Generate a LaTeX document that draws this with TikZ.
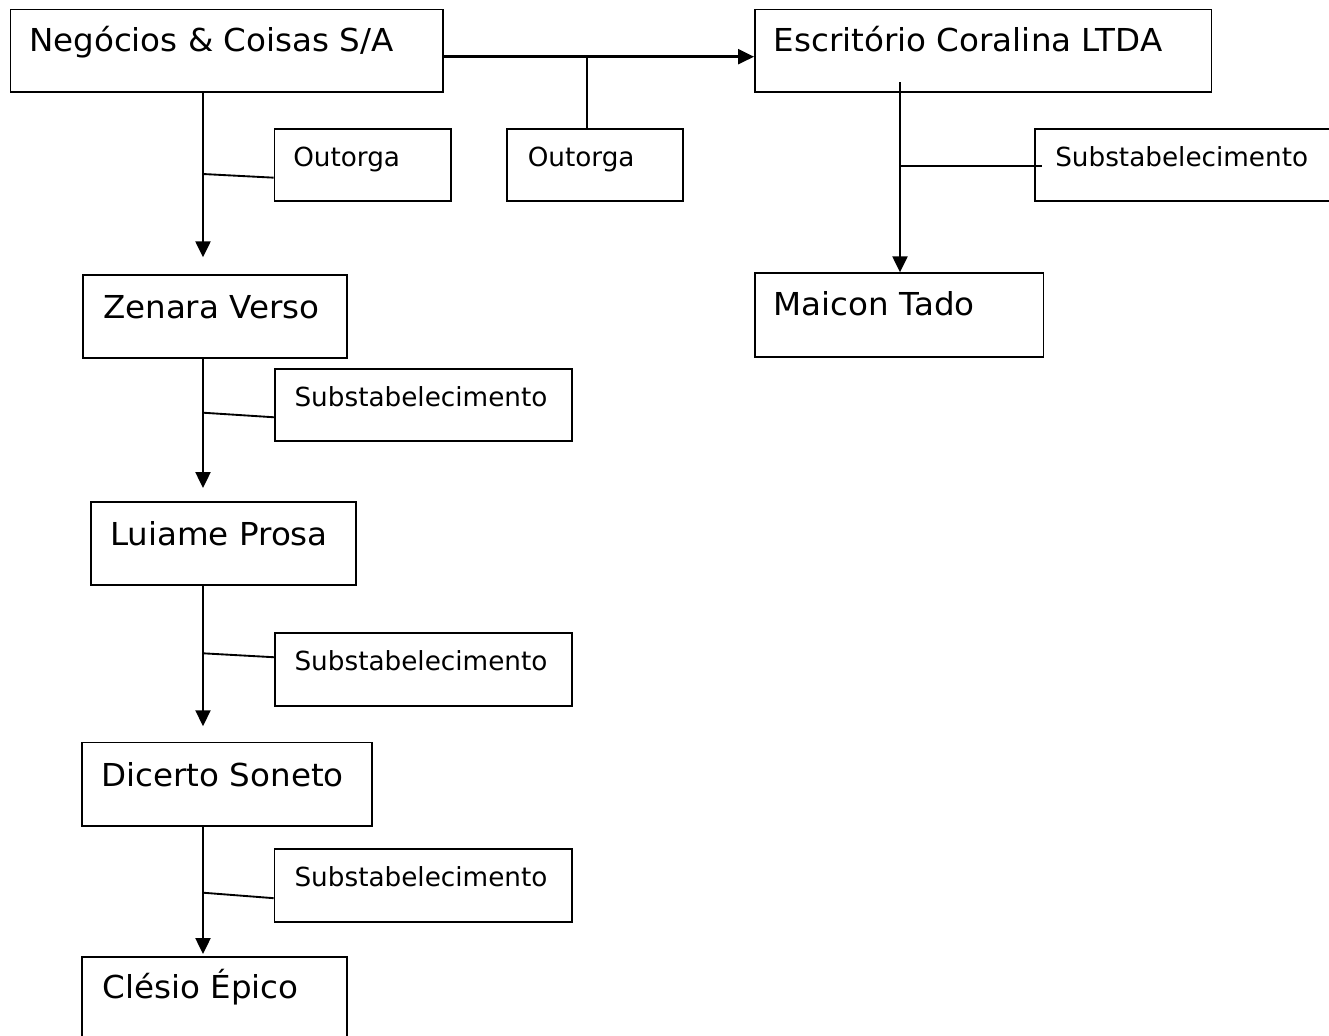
\documentclass[tikz,border=0pt]{standalone}
\usepackage{fontspec}
\setmainfont{DejaVu Sans}
\newfontfamily\bigfam{DejaVu Sans}[FakeStretch=1.03]
\usetikzlibrary{arrows.meta,fit,calc}
\tikzset{
  boxst/.style={draw=black, line width=1.3pt, inner sep=0pt, rectangle},
  bigtxt/.style={anchor=base west, inner sep=0pt, font=\bigfam\fontsize{23.7pt}{28pt}\selectfont},
  smalltxt/.style={anchor=base west, inner sep=0pt, font=\fontsize{19.7pt}{24pt}\selectfont},
  arr/.style={line width=2.2pt, -{Triangle[length=12pt,width=11pt]}},
  tick/.style={line width=1.4pt}
}
\begin{document}
\begin{tikzpicture}[x=0.75pt,y=-0.75pt]
\clip (0,0) rectangle (1329,1036);
\fill[white] (0,0) rectangle (1329,1036);

% boxes
\node[boxst, fit={(10.5,9.5) (443,91.7)}] (A) {};
\node[boxst, fit={(755,9.5) (1211.5,91.7)}] (B) {};
\node[boxst, fit={(274.5,129) (451,201)}] (O1) {};
\node[boxst, fit={(507,129) (683,201)}] (O2) {};
\node[boxst, fit={(1035,129) (1370,201)}] (SR) {};
\node[boxst, fit={(755,273.3) (1043.5,356.7)}] (M) {};
\node[boxst, fit={(82.7,275) (347,358)}] (Z) {};
\node[boxst, fit={(275,369) (571.7,441)}] (S2) {};
\node[boxst, fit={(90.7,501.7) (355.7,585)}] (L) {};
\node[boxst, fit={(275,633.3) (571.7,705.7)}] (S3) {};
\node[boxst, fit={(82,742.5) (372,826)}] (D) {};
\node[boxst, fit={(274.5,849.3) (572,921.7)}] (S4) {};
\node[boxst, fit={(82,957) (347,1050)}] (C) {};

% texts
\node[bigtxt] (tA) at (28.8,51.7) {Negócios \& Coisas S/A};
\node[bigtxt] (tB) at (773.5,51.7) {Escritório Coralina LTDA};
\node[smalltxt] (tO1) at (293,166.7) {Outorga};
\node[smalltxt] (tO2) at (527.5,166.7) {Outorga};
\node[smalltxt] (tSR) at (1055,166.7) {Substabelecimento};
\node[bigtxt] (tM) at (773.5,315) {Maicon Tado};
\node[bigtxt] (tZ) at (102.8,318) {Zenara Verso};
\node[smalltxt] (tS2) at (294.3,406.7) {Substabelecimento};
\node[bigtxt] (tL) at (109.8,545) {Luiame Prosa};
\node[smalltxt] (tS3) at (294.3,670) {Substabelecimento};
\node[bigtxt] (tD) at (101.2,786) {Dicerto Soneto};
\node[smalltxt] (tS4) at (294.3,886.7) {Substabelecimento};
\node[bigtxt] (tC) at (102.4,998.3) {Clésio Épico};

% column coordinates
\coordinate (colx) at (203,0);
\coordinate (colr) at (900,0);
\coordinate (rowy) at (0,56.7);

% Negocios -> Escritorio
\draw[arr] (A.east |- rowy) -- (B.west |- rowy);
\coordinate (j2) at (587,56.7);
\draw[tick] (j2) -- (O2.north -| j2);

% Negocios -> Zenara
\draw[arr] (A.south -| colx) -- ($(Z.north -| colx)+(0,-16.7)$);
\coordinate (t1) at (203,174);
\draw[tick] (t1) -- ([yshift=-9.5pt]O1.west);

% Escritorio -> Maicon
\coordinate (bstart) at (900,82);
\draw[arr] (bstart) -- (M.north -| colr);
\coordinate (tr) at (900,166);
\draw[tick] (tr) -- ($(SR.west |- tr)+(8,0)$);

% Zenara -> Luiame
\draw[arr] (Z.south -| colx) -- ($(L.north -| colx)+(0,-12.7)$);
\coordinate (t2) at (203,412.7);
\draw[tick] (t2) -- ([yshift=-9.2pt]S2.west);

% Luiame -> Dicerto
\draw[arr] (L.south -| colx) -- ($(D.north -| colx)+(0,-15.3)$);
\coordinate (t3) at (203,653.3);
\draw[tick] (t3) -- ([yshift=9.2pt]S3.west);

% Dicerto -> Clesio
\draw[arr] (D.south -| colx) -- ($(C.north -| colx)+(0,-2)$);
\coordinate (t4) at (203,892.7);
\draw[tick] (t4) -- ([yshift=-9.5pt]S4.west);
\end{tikzpicture}
\end{document}
